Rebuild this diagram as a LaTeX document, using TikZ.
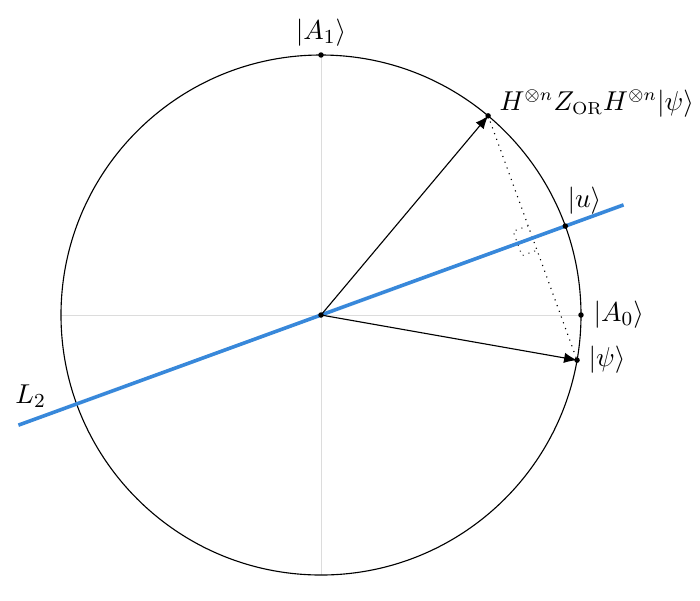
\documentclass[tikz,border=0pt]{standalone}
\usetikzlibrary{calc,arrows.meta}
\definecolor{lineblue}{RGB}{56,136,218}
\definecolor{axisgray}{RGB}{220,220,220}
\begin{document}
\begin{tikzpicture}[x=0.1411mm,y=0.1411mm,
  dotpt/.style={circle,fill=black,inner sep=0pt,minimum size=5.5pt*0.4},
  vec/.style={-{Latex[length=10pt*0.4*1.3,width=8pt*0.4*1.3]},line width=0.45pt},
  lbl/.style={inner sep=0pt,anchor=base west,font=\fontsize{11}{13}\selectfont}]
\useasboundingbox (-321,-285) rectangle (379,315);
% axes
\draw[axisgray,line width=0.4pt] (-260,0) -- (260,0);
\draw[axisgray,line width=0.4pt] (0,-260) -- (0,260);
% circle
\draw[line width=0.45pt] (0,0) circle (260);
% points
\coordinate (O) at (0,0);
\coordinate (A1) at (90:260);
\coordinate (A0) at (0:260);
\coordinate (P) at (-10:260);
\coordinate (U) at (20:260);
\coordinate (H) at (50:260);
\coordinate (F) at (20:225.17);
\coordinate (L2a) at (200:322);
\coordinate (L2b) at (20:322);
% dotted reflection line and right-angle mark
\draw[dotted,line width=0.45pt] (H) -- (P);
\draw[dotted,line width=0.45pt,black!75]
  ($(F)+(110:13)$) -- ($(F)+(110:13)+(200:16)$) -- ($(F)+(290:13)+(200:16)$) -- ($(F)+(290:13)$);
% blue line
\draw[lineblue,line width=1.45pt] (L2a) -- (L2b);
% vectors
\draw[vec] (O) -- (H);
\draw[vec] (O) -- (P);
% dots
\node[dotpt] (nO) at (O) {};
\node[dotpt] (nA1) at (A1) {};
\node[dotpt] (nA0) at (A0) {};
\node[dotpt] (nP) at (P) {};
\node[dotpt] (nU) at (U) {};
\node[dotpt] (nH) at (H) {};
% labels
\node[lbl,anchor=base] (tA1) at (0,276) {$|A_1\rangle$};
\node[lbl] (tA0) at (272,-6) {$|A_0\rangle$};
\node[lbl] (tU) at (246,108) {$|u\rangle$};
\node[lbl] (tP) at (267,-51) {$|\psi\rangle$};
\node[lbl,font=\fontsize{10.5}{13}\selectfont] (tH) at (178,205) {$H^{\otimes n} Z_{\mathrm{OR}} H^{\otimes n}|\psi\rangle$};
\node[lbl] (tL) at (-306,-88) {$L_2$};
\end{tikzpicture}
\end{document}
